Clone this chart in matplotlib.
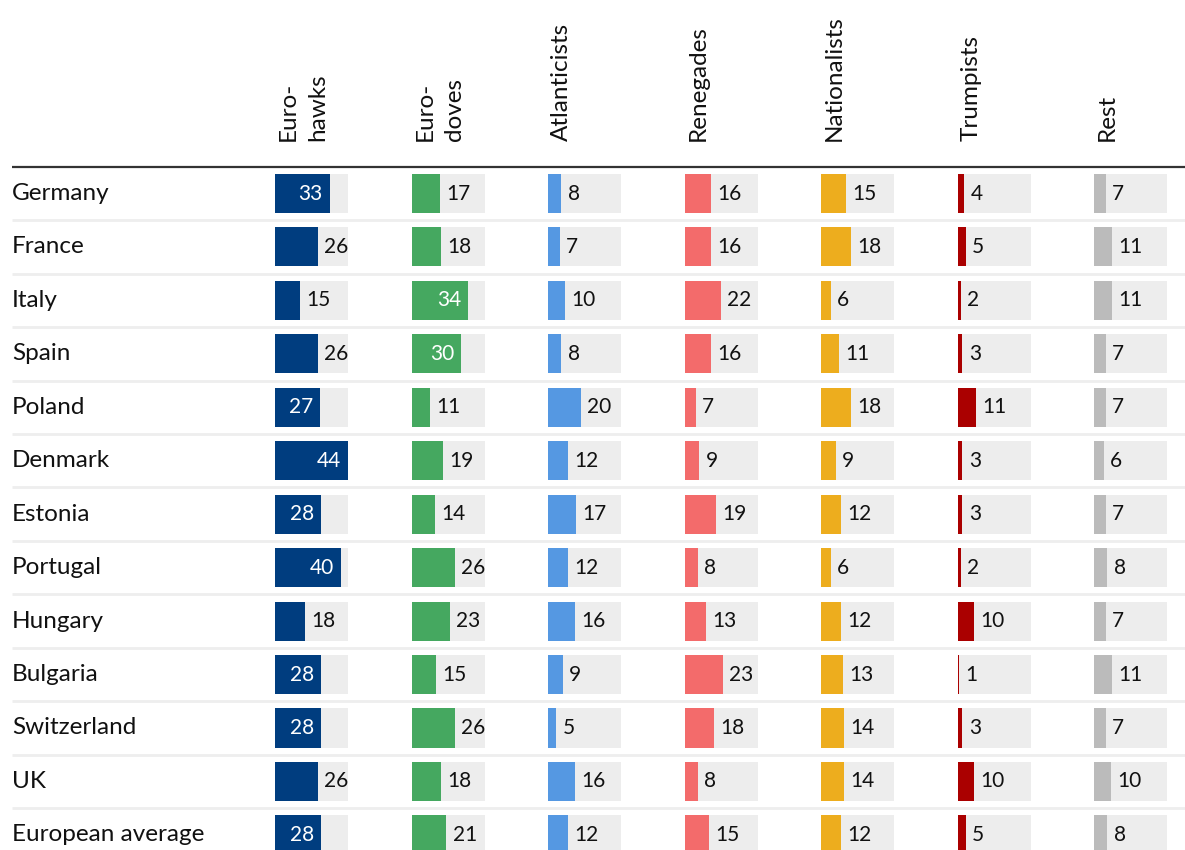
import matplotlib
matplotlib.use("Agg")
import matplotlib.pyplot as plt

countries = ["Germany", "France", "Italy", "Spain", "Poland", "Denmark", "Estonia",
             "Portugal", "Hungary", "Bulgaria", "Switzerland", "UK", "European average"]
groups = ["Euro-\nhawks", "Euro-\ndoves", "Atlanticists", "Renegades",
          "Nationalists", "Trumpists", "Rest"]
hawks = [33, 26, 15, 26, 27, 44, 28, 40, 18, 28, 28, 26, 28]
doves = [17, 18, 34, 30, 11, 19, 14, 26, 23, 15, 26, 18, 21]
atlanticists = [8, 7, 10, 8, 20, 12, 17, 12, 16, 9, 5, 16, 12]
renegades = [16, 16, 22, 16, 7, 9, 19, 8, 13, 23, 18, 8, 15]
nationalists = [15, 18, 6, 11, 18, 9, 12, 6, 12, 13, 14, 14, 12]
trumpists = [4, 5, 2, 3, 11, 3, 3, 2, 10, 1, 3, 10, 5]
rest = [7, 11, 11, 7, 7, 6, 7, 8, 7, 11, 7, 10, 8]

series = [hawks, doves, atlanticists, renegades, nationalists, trumpists, rest]
colors = ["#003d7f", "#45a860", "#5598e2", "#f36b6b", "#edad1e", "#aa0000", "#bbbbbb"]
BG = "#ededed"
MAXV = 44

plt.rcParams['font.family'] = ['Lato', 'DejaVu Sans']

W, H = 1185, 850
fig = plt.figure(figsize=(W / 100, H / 100), dpi=100)

# base axes in pixel coordinates for text and lines
base = fig.add_axes([0, 0, 1, 1])
base.set_xlim(0, W)
base.set_ylim(H, 0)
base.axis("off")

row0 = 193.5
pitch = 53.45
top_px = 166.5
col_x0 = 275.0
col_pitch = 136.5
col_w = 73.0

# header line
base.plot([12, W], [top_px, top_px], color="#333333", lw=1.6, solid_capstyle="butt")
# row separators
for i in range(len(countries) - 1):
    y = row0 + pitch * (i + 0.5)
    base.plot([12, W], [y, y], color="#eeeeee", lw=2.0, solid_capstyle="butt")

# country labels
for i, c in enumerate(countries):
    base.text(12, row0 + pitch * i, c, ha="left", va="center", fontsize=17.5, color="#111111")

# headers
for k, g in enumerate(groups):
    x = col_x0 + col_pitch * k + 3
    base.text(x, 141, g, rotation=90, rotation_mode="anchor", ha="left", va="top",
              fontsize=17.5, color="#111111", linespacing=1.5)

# per-column axes
n = len(countries)
y_top = (top_px - row0) / pitch
y_bot = (H - row0) / pitch
for k, (vals, col) in enumerate(zip(series, colors)):
    left = (col_x0 + col_pitch * k) / W
    ax = fig.add_axes([left, 0, col_w / W, (H - top_px) / H])
    ax.set_xlim(0, MAXV)
    ax.set_ylim(y_bot, y_top)
    ax.axis("off")
    ys = list(range(n))
    ax.barh(ys, [MAXV] * n, height=0.73, color=BG, left=0)
    ax.barh(ys, vals, height=0.73, color=col, left=0)
    for i, v in enumerate(vals):
        if v >= 27:
            ax.annotate(str(v), (v, i), xytext=(-5, 0), textcoords="offset points",
                        ha="right", va="center", fontsize=15, color="white")
        else:
            ax.annotate(str(v), (v, i), xytext=(4.5, 0), textcoords="offset points",
                        ha="left", va="center", fontsize=15, color="#111111")

fig.savefig("out.png", dpi=100)
